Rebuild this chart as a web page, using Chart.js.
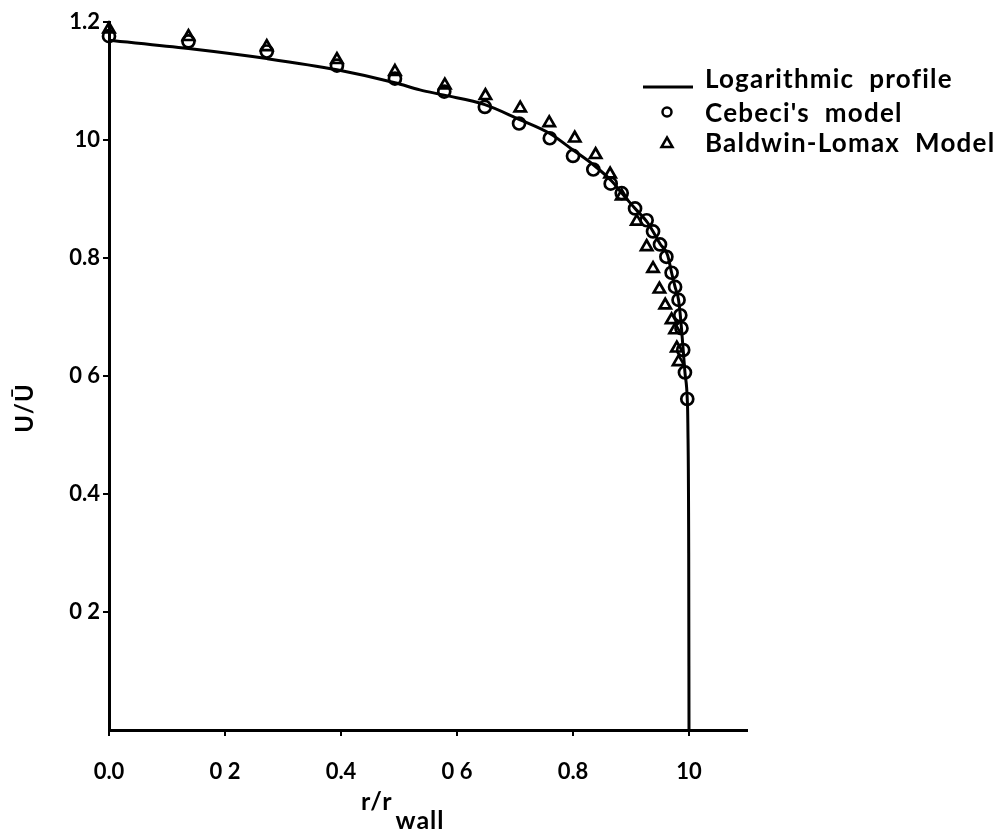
<!DOCTYPE html>
<html>
<head>
<meta charset="utf-8">
<script src="https://cdn.jsdelivr.net/npm/chart.js@4.4.1/dist/chart.umd.min.js"></script>
<style>
  html, body { margin: 0; padding: 0; background: #fff; }
  #wrap { width: 1000px; height: 834px; position: relative; }
</style>
</head>
<body>
<div id="wrap"><canvas id="c" width="1000" height="834"></canvas></div>
<script>
// ---- Data ----
const seriesLabels = ["Logarithmic  profile", "Cebeci's  model", "Baldwin-Lomax  Model"];

// Logarithmic profile (r/r_wall, U/Ubar)
const logR = [0.000, 0.137, 0.272, 0.393, 0.493, 0.536, 0.578, 0.648, 0.707, 0.760, 0.800, 0.835, 0.867, 0.884, 0.907, 0.927, 0.938, 0.950, 0.963, 0.970, 0.976, 0.982, 0.985, 0.987, 0.990, 0.993, 0.997, 0.998, 0.9995, 1.000];
const logU = [1.169, 1.155, 1.138, 1.119, 1.097, 1.085, 1.076, 1.060, 1.035, 1.011, 0.983, 0.958, 0.930, 0.910, 0.884, 0.862, 0.845, 0.824, 0.805, 0.775, 0.751, 0.729, 0.703, 0.681, 0.644, 0.606, 0.561, 0.520, 0.300, 0.000];

// Cebeci's model
const cebR = [0.000, 0.137, 0.272, 0.393, 0.493, 0.578, 0.648, 0.707, 0.760, 0.800, 0.835, 0.865, 0.884, 0.907, 0.927, 0.938, 0.950, 0.961, 0.970, 0.976, 0.982, 0.985, 0.987, 0.990, 0.993, 0.997];
const cebU = [1.176, 1.167, 1.150, 1.126, 1.104, 1.082, 1.056, 1.028, 1.003, 0.973, 0.950, 0.926, 0.910, 0.884, 0.864, 0.845, 0.823, 0.802, 0.775, 0.751, 0.729, 0.703, 0.681, 0.644, 0.606, 0.561];

// Baldwin-Lomax model
const blR = [0.000, 0.137, 0.272, 0.393, 0.493, 0.579, 0.649, 0.709, 0.759, 0.803, 0.839, 0.864, 0.884, 0.910, 0.927, 0.938, 0.949, 0.959, 0.970, 0.976, 0.979, 0.982];
const blU = [1.188, 1.175, 1.158, 1.136, 1.116, 1.093, 1.075, 1.054, 1.029, 1.003, 0.975, 0.942, 0.905, 0.862, 0.819, 0.782, 0.747, 0.720, 0.695, 0.678, 0.647, 0.624];

// Tick values and labels (as printed)
const xTickVals = [0.0, 0.2, 0.4, 0.6, 0.8, 1.0];
const xTickLabels = ["0.0", "0 2", "0.4", "0 6", "0.8", "10"];
const yTickVals = [0.2, 0.4, 0.6, 0.8, 1.0, 1.2];
const yTickLabels = ["0 2", "0.4", "0 6", "0.8", "10", "1.2"];

const xTitleMain = "r/r";
const xTitleSub = "wall";
const yTitle = "U/\u016A";

// ---- Build chart ----
const pts = (xs, ys) => xs.map((x, i) => ({ x: x, y: ys[i] }));
const FONT = "Lato, 'DejaVu Sans', sans-serif";

function lookupLabel(vals, labels, v) {
  for (let i = 0; i < vals.length; i++) if (Math.abs(vals[i] - v) < 1e-6) return labels[i];
  return "";
}

const overlay = {
  id: "overlay",
  afterDraw(chart) {
    const ctx = chart.ctx;
    ctx.save();
    ctx.fillStyle = "#000";
    ctx.strokeStyle = "#000";
    // Legend
    ctx.font = "bold 26px " + FONT;
    try { ctx.letterSpacing = "1.2px"; } catch (e) {}
    ctx.textBaseline = "alphabetic";
    ctx.textAlign = "left";
    ctx.lineWidth = 3;
    ctx.beginPath(); ctx.moveTo(643, 87); ctx.lineTo(693, 87); ctx.stroke();
    ctx.fillText(chart.data.datasets[0].label, 705, 88);
    ctx.lineWidth = 2.5;
    ctx.beginPath(); ctx.arc(667, 112, 4.5, 0, Math.PI * 2); ctx.stroke();
    ctx.fillText(chart.data.datasets[1].label, 705, 122);
    ctx.beginPath();
    ctx.moveTo(667, 137.5); ctx.lineTo(672.5, 147); ctx.lineTo(661.5, 147); ctx.closePath(); ctx.stroke();
    ctx.fillText(chart.data.datasets[2].label, 705, 152);

    // X title with subscript
    try { ctx.letterSpacing = "1px"; } catch (e) {}
    ctx.font = "bold 25px " + FONT;
    const w1 = ctx.measureText(xTitleMain).width;
    ctx.fillText(xTitleMain, 361, 810);
    ctx.fillText(xTitleSub, 361 + w1 + 3, 829);

    // Y title rotated
    try { ctx.letterSpacing = "1px"; } catch (e) {}
    ctx.translate(25, 408);
    ctx.rotate(-Math.PI / 2);
    ctx.font = "bold 24px " + FONT;
    ctx.textAlign = "center";
    ctx.textBaseline = "middle";
    ctx.fillText(yTitle, 0, 0);
    ctx.restore();
  }
};

new Chart(document.getElementById("c"), {
  type: "scatter",
  data: {
    datasets: [
      {
        label: seriesLabels[0],
        data: pts(logR, logU),
        showLine: true,
        borderColor: "#000",
        borderWidth: 3,
        pointRadius: 0,
        cubicInterpolationMode: "monotone",
        clip: false,
        order: 2
      },
      {
        label: seriesLabels[1],
        data: pts(cebR, cebU),
        showLine: false,
        pointStyle: "circle",
        pointRadius: 6,
        pointBorderWidth: 2.7,
        borderColor: "#000",
        backgroundColor: "rgba(0,0,0,0)",
        clip: false,
        order: 1
      },
      {
        label: seriesLabels[2],
        data: pts(blR, blU),
        showLine: false,
        pointStyle: "triangle",
        pointRadius: 6.5,
        pointBorderWidth: 2.7,
        borderColor: "#000",
        backgroundColor: "rgba(0,0,0,0)",
        clip: false,
        order: 0
      }
    ]
  },
  options: {
    responsive: false,
    animation: false,
    devicePixelRatio: 1,
    layout: { padding: { left: 0, top: 22, right: 253, bottom: 0 } },
    plugins: { legend: { display: false }, tooltip: { enabled: false }, title: { display: false } },
    scales: {
      x: {
        type: "linear",
        min: 0, max: 1.1,
        afterFit(s) { s.height = 104; },
        afterBuildTicks(s) { s.ticks = xTickVals.map(v => ({ value: v })); },
        grid: { display: true, drawOnChartArea: false, drawTicks: true, tickLength: 6, color: "#000", lineWidth: 2 },
        border: { display: true, color: "#000", width: 3 },
        ticks: {
          color: "#000",
          font: { family: FONT, size: 22, weight: "bold" },
          padding: 23,
          maxRotation: 0,
          autoSkip: false,
          callback: (v) => lookupLabel(xTickVals, xTickLabels, v)
        }
      },
      y: {
        type: "linear",
        min: 0, max: 1.2,
        afterFit(s) { s.width = 109; },
        afterBuildTicks(s) { s.ticks = yTickVals.map(v => ({ value: v })); },
        grid: { display: true, drawOnChartArea: false, drawTicks: true, tickLength: 6, color: "#000", lineWidth: 2 },
        border: { display: true, color: "#000", width: 3 },
        ticks: {
          color: "#000",
          font: { family: FONT, size: 22, weight: "bold" },
          padding: 3,
          autoSkip: false,
          callback: (v) => lookupLabel(yTickVals, yTickLabels, v)
        }
      }
    }
  },
  plugins: [overlay]
});
</script>
</body>
</html>
